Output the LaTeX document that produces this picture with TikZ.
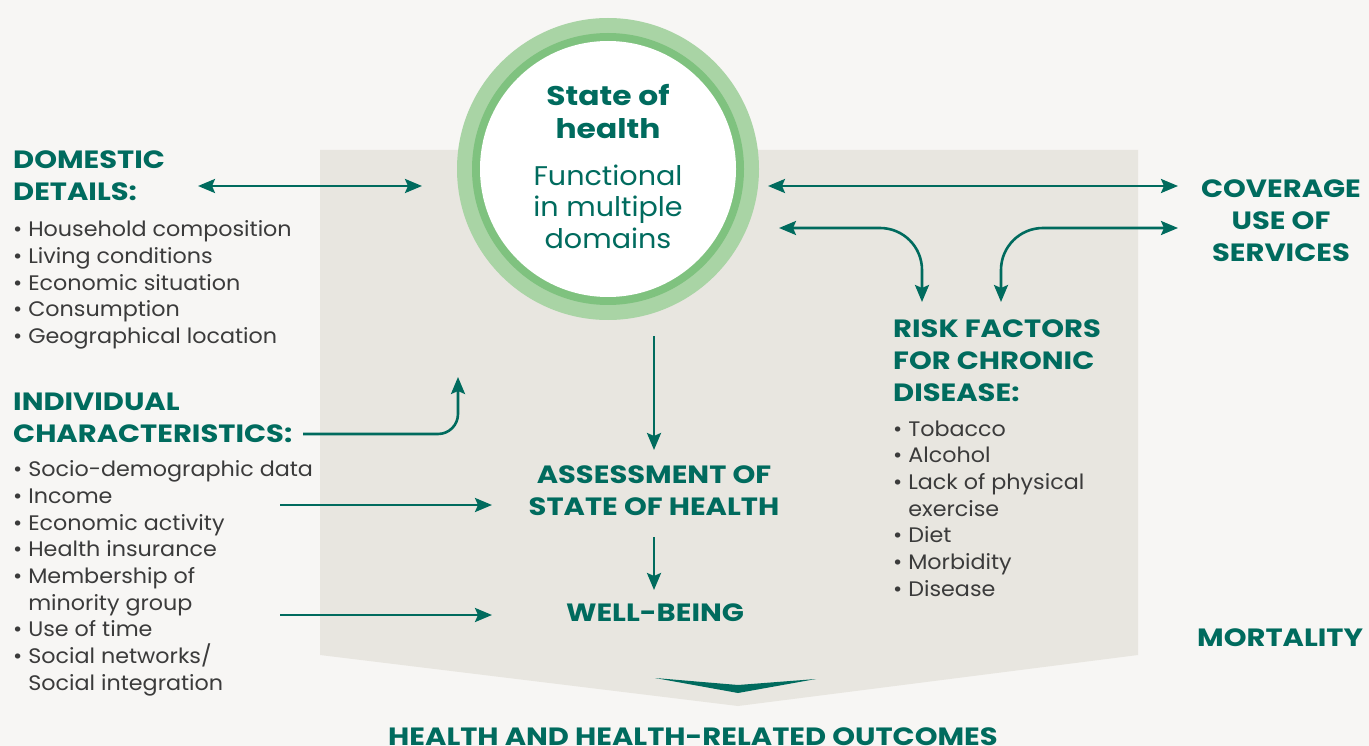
\documentclass[tikz,border=0pt]{standalone}
\usepackage{fontspec}
\setmainfont{Poppins}[FakeStretch=1.06]
\newfontfamily\titfont{Poppins}[FakeStretch=1.16]
\usetikzlibrary{arrows.meta}
\usetikzlibrary{calc}

\definecolor{verde}{HTML}{006B5E}
\definecolor{gris}{HTML}{3B3B3B}
\definecolor{fondo}{HTML}{F7F6F4}
\definecolor{panel}{HTML}{E8E6E0}
\definecolor{anillo}{HTML}{A9D4A5}
\definecolor{borde}{HTML}{7FC27F}

\tikzset{
  hd/.tip={Stealth[length=17pt,width=14pt,inset=3pt]},
  conn/.style={draw=verde, line width=2.6pt},
  titulo/.style={text=verde, font=\titfont\bfseries\fontsize{25}{32}\selectfont, inner sep=0pt, align=left},
  lista/.style={text=gris, font=\fontsize{21}{26.65}\selectfont, inner sep=0pt, align=left},
}

\begin{document}
\begin{tikzpicture}[x=1pt, y=-1pt]
  \useasboundingbox (0,0) rectangle (1369,746);
  \fill [fondo] (0,0) rectangle (1369,746); % fondo
  \fill [panel] (320,150) -- (1138,150) -- (1138,655) -- (738,706) -- (320,655) -- cycle; % panel
  \fill [verde] (655,678) -- (738,685) -- (816,679) -- (738,693) -- cycle; % punta hacia abajo

  % circulo central
  \fill [anillo] (608,169) circle [radius=151pt];
  \fill [borde] (608,169) circle [radius=136pt];
  \node [circle, fill=white, minimum size=256pt, inner sep=0pt] (salud) at (608,169) {};
  % (anchor=base cae en la ultima linea)
  \node [titulo, align=center, anchor=base, font=\titfont\bfseries\fontsize{27}{32.6}\selectfont] (estado) at (608,138.3) {State of\\health};
  \node [titulo, align=center, anchor=base, font=\fontsize{27}{31.3}\selectfont] (funcional) at (608,248.3) {Functional\\in multiple\\domains};

  % izquierda
  \node [titulo, anchor=base west] (domestico) at (13,201) {DOMESTIC\\DETAILS:};
  \node [lista, anchor=base west] (domlista) at (13,343.5) {\textbullet\ Household composition\\\textbullet\ Living conditions\\\textbullet\ Economic situation\\\textbullet\ Consumption\\\textbullet\ Geographical location};
  \node [titulo, anchor=base west] (individual) at (13,442.5) {INDIVIDUAL\\CHARACTERISTICS:};
  \node [lista, anchor=base west] (indlista) at (13,690) {\textbullet\ Socio-demographic data\\\textbullet\ Income\\\textbullet\ Economic activity\\\textbullet\ Health insurance\\\textbullet\ Membership of\\\phantom{\textbullet\ }minority group\\\textbullet\ Use of time\\\textbullet\ Social networks/\\\phantom{\textbullet\ }Social integration};

  % centro
  \node [titulo, align=center, anchor=base] (evaluacion) at (654,515) {ASSESSMENT OF\\STATE OF HEALTH};
  \node [titulo, align=center, anchor=base] (bienestar) at (655,621.5) {WELL-BEING};
  \node [titulo, align=center, anchor=base] (resultados) at (693,745) {HEALTH AND HEALTH-RELATED OUTCOMES};

  % derecha
  \node [titulo, align=center, anchor=base] (cobertura) at (1281,261.7) {COVERAGE\\USE OF\\SERVICES};
  \node [titulo, anchor=base west] (riesgo) at (893,401) {RISK FACTORS\\FOR CHRONIC\\DISEASE:};
  \node [lista, anchor=base west] (riesgolista) at (893,596.2) {\textbullet\ Tobacco\\\textbullet\ Alcohol\\\textbullet\ Lack of physical\\\phantom{\textbullet\ }exercise\\\textbullet\ Diet\\\textbullet\ Morbidity\\\textbullet\ Disease};
  \node [titulo, anchor=base west] (mortalidad) at (1197,646) {MORTALITY};

  % extremos de las flechas
  \coordinate (dd-a) at (198,186);   \coordinate (dd-b) at (422,186);
  \coordinate (ic-a) at (303,434);   \coordinate (ic-b) at (458,377);
  \coordinate (in-a) at (280,505);   \coordinate (in-b) at (492,505);
  \coordinate (mg-a) at (280,615);   \coordinate (mg-b) at (492,615);
  \coordinate (v1-a) at (654,336);   \coordinate (v1-b) at (654,450);
  \coordinate (v2-a) at (654,537);   \coordinate (v2-b) at (654,590);
  \coordinate (cv-a) at (768,186);   \coordinate (cv-b) at (1178,186);
  \coordinate (rl-a) at (779,228);   \coordinate (rl-b) at (922,302);
  \coordinate (rr-a) at (1178,228);  \coordinate (rr-b) at (1001,302);

  \draw [conn, {hd}-{hd}] (dd-a) -- (dd-b); % domestic <-> estado
  \draw [conn, -{hd}, rounded corners=20pt] (ic-a) -| (ic-b); % individual -> estado
  \draw [conn, -{hd}] (in-a) -- (in-b);
  \draw [conn, -{hd}] (mg-a) -- (mg-b);
  \draw [conn, -{hd}] (v1-a) -- (v1-b);
  \draw [conn, -{hd}] (v2-a) -- (v2-b);
  \draw [conn, {hd}-{hd}] (cv-a) -- (cv-b); % estado <-> cobertura
  \draw [conn, {hd}-{hd}, rounded corners=42pt] (rl-a) -| (rl-b); % estado <-> riesgo
  \draw [conn, {hd}-{hd}, rounded corners=42pt] (rr-a) -| (rr-b); % cobertura <-> riesgo
\end{tikzpicture}
\end{document}
